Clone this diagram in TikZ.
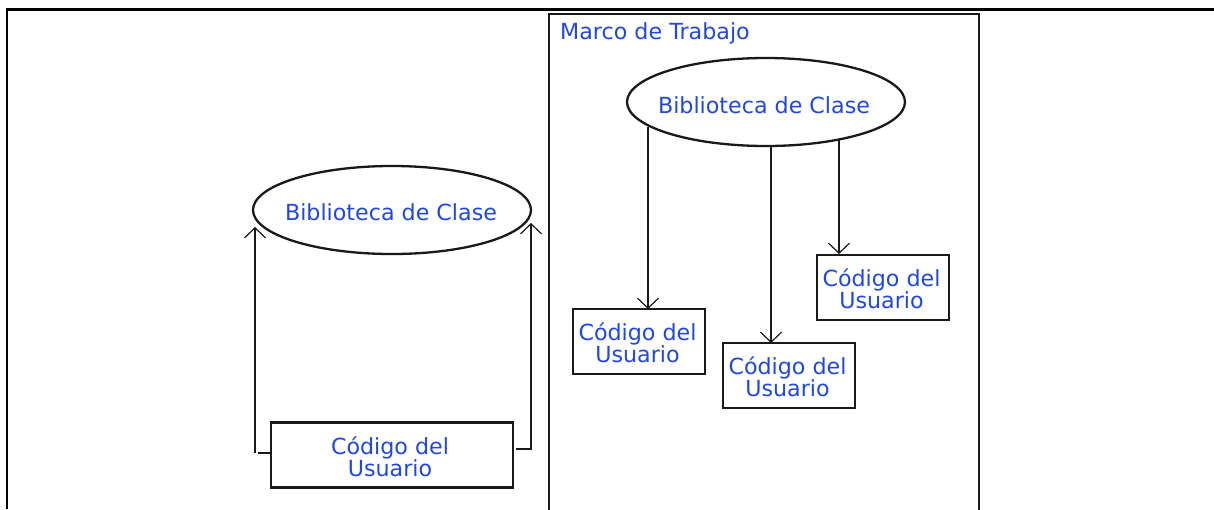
\documentclass[tikz,border=0pt]{standalone}
\usepackage{fontspec}
\setmainfont{DejaVu Sans}
\usetikzlibrary{shapes.geometric,arrows.meta}
\definecolor{lbl}{HTML}{2348D8}
\tikzset{
  lab/.style={text=lbl,font=\fontsize{22.2}{22.5}\selectfont,align=center,inner sep=0pt},
  oval/.style={ellipse,draw=black!90,line width=2.3pt,fill=white,minimum width=278pt,minimum height=88pt,inner sep=0pt},
  ubox/.style={rectangle,draw=black!90,line width=2.3pt,fill=white,minimum height=65pt,inner sep=0pt},
  wire/.style={draw=black!90,line width=2.2pt},
  arr/.style={wire,-{Straight Barb[length=10pt,width=21pt,line width=1.2pt]}}
}
\begin{document}
\begin{tikzpicture}[x=1pt,y=-1pt]
\useasboundingbox (0,0) rectangle (1214,509);
\fill[white] (0,0) rectangle (1214,509);
% page corner rule
\fill[black] (6,8) rectangle (1214,11);
\fill[black] (6,8) rectangle (8,509);
% frame
\node[draw=black!90,line width=2.4pt,minimum width=430pt,minimum height=520pt,anchor=north west,inner sep=0pt] (frame) at (548,12.6) {};
\node[lab,anchor=west] (mt) at (560,33) {Marco de Trabajo};
% left part
\node[oval] (lo) at (392,210) {};
\node[lab] (lot) at (391,212) {Biblioteca de Clase};
\node[ubox,minimum width=242pt] (lb) at (392,455) {};
\node[lab] (lbt) at (390,457) {Código del\\Usuario};
\coordinate (ls) at (258,453);
\coordinate (lc) at (255,453);
\coordinate (lt) at (255,227);
\coordinate (rc) at (531,449);
\coordinate (rt) at (531,223);
\coordinate (rs) at (516,449);
\draw[wire] (lb.west |- ls) -- (ls);
\draw[arr] (lc) -- (lt);
\draw[wire] (rs) -- (rc);
\draw[arr,shorten <=-1pt] (rc) -- (rt);
% right part
\node[oval] (ro) at (766,102) {};
\node[lab] (rot) at (764,105) {Biblioteca de Clase};
\node[ubox,minimum width=132pt] (a) at (639,341.5) {};
\node[lab] (at) at (637.5,343) {Código del\\Usuario};
\node[ubox,minimum width=132pt] (b) at (789,375.5) {};
\node[lab] (bt) at (787.5,377) {Código del\\Usuario};
\node[ubox,minimum width=132pt] (c) at (883,287.5) {};
\node[lab] (ct) at (881.5,289) {Código del\\Usuario};
\coordinate (a0) at (648,127);
\coordinate (a1) at (648,309);
\coordinate (b0) at (771,147);
\coordinate (b1) at (771,343);
\coordinate (c0) at (839,139);
\coordinate (c1) at (839,254);
\draw[arr] (a0) -- (a1);
\draw[arr] (b0) -- (b1);
\draw[arr] (c0) -- (c1);
\end{tikzpicture}
\end{document}
